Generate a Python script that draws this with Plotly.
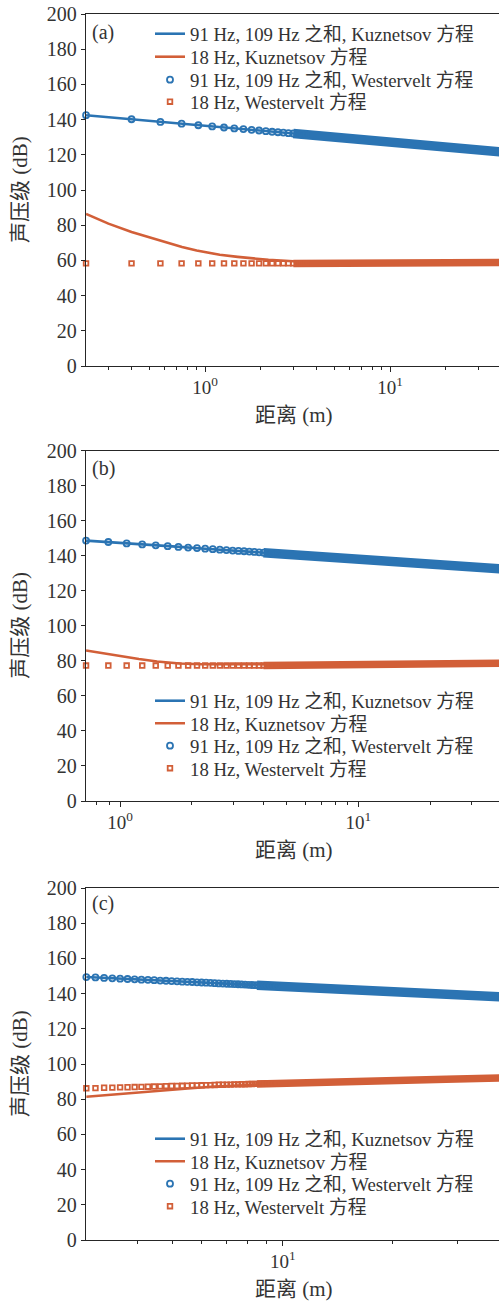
import plotly.graph_objects as go

BLUE = "#2b74b3"
ORANGE = "#d25f38"
AXIS = "#262626"
TEXT = "#333333"
FONT = "'Liberation Serif', 'Times New Roman', 'Noto Sans CJK SC', serif"

NAMES = [
    "91 Hz, 109 Hz 之和, Kuznetsov 方程",
    "18 Hz, Kuznetsov 方程",
    "91 Hz, 109 Hz 之和, Westervelt 方程",
    "18 Hz, Westervelt 方程",
]
PANEL_TAGS = ["(a)", "(b)", "(c)"]
X_TITLE = "距离 (m)"
Y_TITLE = "声压级 (dB)"
Y_TICKS = [0, 20, 40, 60, 80, 100, 120, 140, 160, 180, 200]

# ---------------- panel (a) ----------------
a_kz_x = [0.227, 0.3, 0.4, 0.5, 0.6, 0.75, 0.9, 1.0, 1.2, 1.5, 1.75, 2.2, 3, 4, 6, 10, 15, 20, 30, 40]
a_kz_sum = [142.5, 141.4, 140.2, 139.3, 138.6, 137.7, 136.9, 136.5, 135.8, 134.9, 134.2, 133.3,
            132.1, 130.9, 129.3, 127.2, 125.6, 124.4, 122.8, 121.6]
a_kz_18 = [86.4, 80.9, 76.1, 73.0, 70.6, 67.6, 65.6, 64.6, 63.2, 62.0, 61.3, 60.3,
           59.5, 59.1, 58.9, 58.8, 58.8, 58.8, 58.8, 58.8]
a_wv_x = [0.227, 0.400, 0.573, 0.746, 0.919, 1.092, 1.265, 1.438, 1.611, 1.784,
          1.957, 2.130, 2.303, 2.476, 2.649, 2.822, 2.995, 3.168, 3.341, 3.514]
a_wv_sum = [142.5, 140.2, 138.7, 137.7, 136.8, 136.1, 135.5, 135.0, 134.6, 134.2,
            133.8, 133.4, 133.1, 132.8, 132.6, 132.3, 132.1, 131.8, 131.6, 131.4]
a_wv_18 = [58.3] * 20
a_dense_x = [3.0, 4, 5, 7, 10, 14, 20, 28, 40]
a_dense_sum = [132.1, 130.9, 130.0, 128.6, 127.2, 125.8, 124.4, 123.0, 121.6]
a_dense_18 = [58.3, 58.4, 58.4, 58.5, 58.6, 58.6, 58.7, 58.7, 58.8]

# ---------------- panel (b) ----------------
b_kz_x = [0.72, 0.85, 1.0, 1.2, 1.43, 1.78, 2.2, 3, 4, 5, 7, 10, 15, 20, 30, 40]
b_kz_sum = [148.6, 148.0, 147.3, 146.6, 145.9, 145.0, 144.1, 142.9, 141.7, 140.8,
            139.4, 138.0, 136.4, 135.2, 133.6, 132.4]
b_kz_18 = [85.9, 84.2, 82.6, 81.0, 79.6, 78.5, 78.0, 77.9, 78.0, 78.1,
           78.3, 78.6, 78.9, 79.1, 79.4, 79.5]
b_wv_x = [0.720, 0.893, 1.066, 1.239, 1.412, 1.585, 1.758, 1.931, 2.104, 2.277, 2.450, 2.623,
          2.796, 2.969, 3.142, 3.315, 3.488, 3.661, 3.834, 4.007, 4.180, 4.353, 4.526]
b_wv_sum = [148.6, 147.8, 147.0, 146.4, 145.9, 145.4, 145.0, 144.6, 144.3, 144.0, 143.7, 143.4,
            143.2, 142.9, 142.7, 142.5, 142.3, 142.1, 141.9, 141.7, 141.5, 141.4, 141.2]
b_wv_18 = [77.3] * 23
b_dense_x = [4.0, 5, 7, 10, 14, 20, 28, 40]
b_dense_sum = [141.7, 140.8, 139.4, 138.0, 136.6, 135.2, 133.8, 132.4]
b_dense_18 = [77.3, 77.4, 77.5, 77.7, 77.9, 78.2, 78.4, 78.6]

# ---------------- panel (c) ----------------
c_kz_x = [2.9, 3.3, 3.8, 4.5, 5.5, 6.5, 8, 10, 14, 20, 28, 40]
c_kz_sum = [149.4, 148.9, 148.3, 147.5, 146.7, 146.0, 145.1, 144.1, 142.7, 141.1, 139.7, 138.1]
c_kz_18 = [81.4, 82.4, 83.5, 84.8, 86.1, 87.2, 88.2, 88.9, 89.8, 90.6, 91.3, 91.9]
c_wv_x = [2.900, 3.072, 3.244, 3.416, 3.588, 3.760, 3.932, 4.104, 4.276, 4.448,
          4.620, 4.792, 4.964, 5.136, 5.308, 5.480, 5.652, 5.824, 5.996, 6.168,
          6.340, 6.512, 6.684, 6.856, 7.028, 7.200, 7.372, 7.544, 7.716, 7.888,
          8.060, 8.232, 8.404, 8.576, 8.748, 8.920, 9.092, 9.264, 9.436, 9.608]
c_wv_sum = [149.4, 149.2, 148.9, 148.7, 148.5, 148.3, 148.1, 147.9, 147.8, 147.6,
            147.4, 147.3, 147.1, 147.0, 146.8, 146.7, 146.6, 146.4, 146.3, 146.2,
            146.1, 145.9, 145.8, 145.7, 145.6, 145.5, 145.4, 145.3, 145.2, 145.1,
            145.0, 144.9, 144.8, 144.8, 144.7, 144.6, 144.5, 144.4, 144.4, 144.3]
c_wv_18 = [86.2, 86.3, 86.5, 86.6, 86.7, 86.8, 86.9, 87.0, 87.1, 87.2,
           87.3, 87.4, 87.5, 87.5, 87.6, 87.7, 87.8, 87.8, 87.9, 88.0,
           88.0, 88.1, 88.2, 88.2, 88.3, 88.3, 88.4, 88.4, 88.5, 88.5,
           88.6, 88.6, 88.7, 88.7, 88.8, 88.8, 88.9, 88.9, 89.0, 89.0]
c_dense_x = [8.5, 10, 12, 15, 20, 28, 40]
c_dense_sum = [144.8, 144.1, 143.3, 142.4, 141.1, 139.7, 138.1]
c_dense_18 = [88.7, 89.2, 89.6, 90.0, 90.7, 91.4, 92.1]

panels = [
    dict(kz_x=a_kz_x, kz_sum=a_kz_sum, kz_18=a_kz_18, wv_x=a_wv_x, wv_sum=a_wv_sum, wv_18=a_wv_18,
         dx=a_dense_x, dsum=a_dense_sum, d18=a_dense_18),
    dict(kz_x=b_kz_x, kz_sum=b_kz_sum, kz_18=b_kz_18, wv_x=b_wv_x, wv_sum=b_wv_sum, wv_18=b_wv_18,
         dx=b_dense_x, dsum=b_dense_sum, d18=b_dense_18),
    dict(kz_x=c_kz_x, kz_sum=c_kz_sum, kz_18=c_kz_18, wv_x=c_wv_x, wv_sum=c_wv_sum, wv_18=c_wv_18,
         dx=c_dense_x, dsum=c_dense_sum, d18=c_dense_18),
]

# axis geometry (paper fractions) and log ranges
W, H = 499, 1302
X0 = 86 / W
y_px = [(14, 366), (450.5, 801), (888, 1240)]
x_ranges = [[-0.6442, 1.5892], [-0.1429, 1.5905], [0.4615, 1.5919]]
major = [[1, 10], [1, 10], [10]]
major_txt = [["10<sup>0</sup>", "10<sup>1</sup>"], ["10<sup>0</sup>", "10<sup>1</sup>"], ["10<sup>1</sup>"]]
minor = [
    [0.3, 0.4, 0.5, 0.6, 0.7, 0.8, 0.9, 2, 3, 4, 5, 6, 7, 8, 9, 20, 30],
    [0.8, 0.9, 2, 3, 4, 5, 6, 7, 8, 9, 20, 30],
    [4, 5, 6, 7, 8, 9, 20, 30],
]
# vertical centre (px) of each legend row, per panel
legend_rows_px = [[34, 57, 80, 102], [701, 723.5, 746, 768.5], [1139, 1161.5, 1184, 1206.5]]
tag_px = [32, 468, 904]

fig = go.Figure()


def legend_id(n):
    return "legend" if n == 1 else "legend%d" % n


for i, p in enumerate(panels):
    sfx = "" if i == 0 else str(i + 1)
    xa, ya = "x" + sfx, "y" + sfx
    legs = [legend_id(4 * i + k + 1) for k in range(4)]
    ax = dict(xaxis=xa, yaxis=ya)
    fig.add_trace(go.Scatter(x=p["kz_x"], y=p["kz_sum"], mode="lines", name=NAMES[0],
                             line=dict(color=BLUE, width=2.6), legend=legs[0], **ax))
    fig.add_trace(go.Scatter(x=p["kz_x"], y=p["kz_18"], mode="lines", name=NAMES[1],
                             line=dict(color=ORANGE, width=2.6), legend=legs[1], **ax))
    # densely sampled Westervelt results merge into solid bands at larger distances
    fig.add_trace(go.Scatter(x=p["dx"], y=p["dsum"], mode="lines", showlegend=False,
                             line=dict(color=BLUE, width=9.5), hoverinfo="skip", **ax))
    fig.add_trace(go.Scatter(x=p["dx"], y=p["d18"], mode="lines", showlegend=False,
                             line=dict(color=ORANGE, width=7.5), hoverinfo="skip", **ax))
    fig.add_trace(go.Scatter(x=p["wv_x"], y=p["wv_sum"], mode="markers", name=NAMES[2],
                             marker=dict(symbol="circle-open", size=6, color=BLUE,
                                         line=dict(width=1.8, color=BLUE)),
                             cliponaxis=False, legend=legs[2], **ax))
    fig.add_trace(go.Scatter(x=p["wv_x"], y=p["wv_18"], mode="markers", name=NAMES[3],
                             marker=dict(symbol="square-open", size=4.6, color=ORANGE,
                                         line=dict(width=1.8, color=ORANGE)),
                             cliponaxis=False, legend=legs[3], **ax))

    top, bot = y_px[i]
    dom = [1 - bot / H, 1 - top / H]
    fig.layout["xaxis" + sfx] = dict(
        type="log", range=x_ranges[i], domain=[X0, 1], anchor=ya,
        showline=True, linecolor=AXIS, linewidth=1.3, mirror=True,
        ticks="outside", ticklen=4.5, tickwidth=1.2, tickcolor=AXIS,
        tickvals=major[i], ticktext=major_txt[i],
        minor=dict(tickvals=minor[i], ticks="outside", ticklen=2.5, tickwidth=1, tickcolor=AXIS),
        showgrid=False, zeroline=False, automargin=False,
        tickfont=dict(family=FONT, size=19, color=TEXT),
    )
    fig.layout["yaxis" + sfx] = dict(
        range=[0, 200], domain=dom, anchor=xa,
        showline=True, linecolor=AXIS, linewidth=1.3, mirror=False,
        ticks="outside", ticklen=4, tickwidth=1.2, tickcolor=AXIS,
        tickvals=Y_TICKS, showgrid=False, zeroline=False, automargin=False,
        tickfont=dict(family=FONT, size=20, color=TEXT),
    )
    # one single-entry legend per row, so the row pitch can follow the figure
    for k in range(4):
        fig.layout[legs[k]] = dict(
            x=150 / W, y=1 - legend_rows_px[i][k] / H, xanchor="left", yanchor="middle",
            bgcolor="rgba(0,0,0,0)", borderwidth=0,
            font=dict(family=FONT, size=18.8, color=TEXT),
        )
    # panel tag
    fig.add_annotation(x=90 / W, y=1 - tag_px[i] / H, xref="paper", yref="paper",
                       text=PANEL_TAGS[i], showarrow=False, xanchor="left", yanchor="middle",
                       font=dict(family=FONT, size=20, color=TEXT))
    # axis titles
    fig.add_annotation(x=294 / W, y=1 - (bot + 49) / H, xref="paper", yref="paper",
                       text=X_TITLE, showarrow=False, xanchor="center", yanchor="middle",
                       font=dict(family=FONT, size=21, color=TEXT))
    fig.add_annotation(x=20 / W, y=1 - (top + bot) / 2 / H, xref="paper", yref="paper",
                       text=Y_TITLE, showarrow=False, textangle=-90,
                       xanchor="center", yanchor="middle",
                       font=dict(family=FONT, size=21, color=TEXT))

fig.update_layout(
    width=W, height=H,
    margin=dict(l=0, r=0, t=0, b=0, pad=0),
    paper_bgcolor="white", plot_bgcolor="white",
    template="none",
)

fig.write_html("out.html")
